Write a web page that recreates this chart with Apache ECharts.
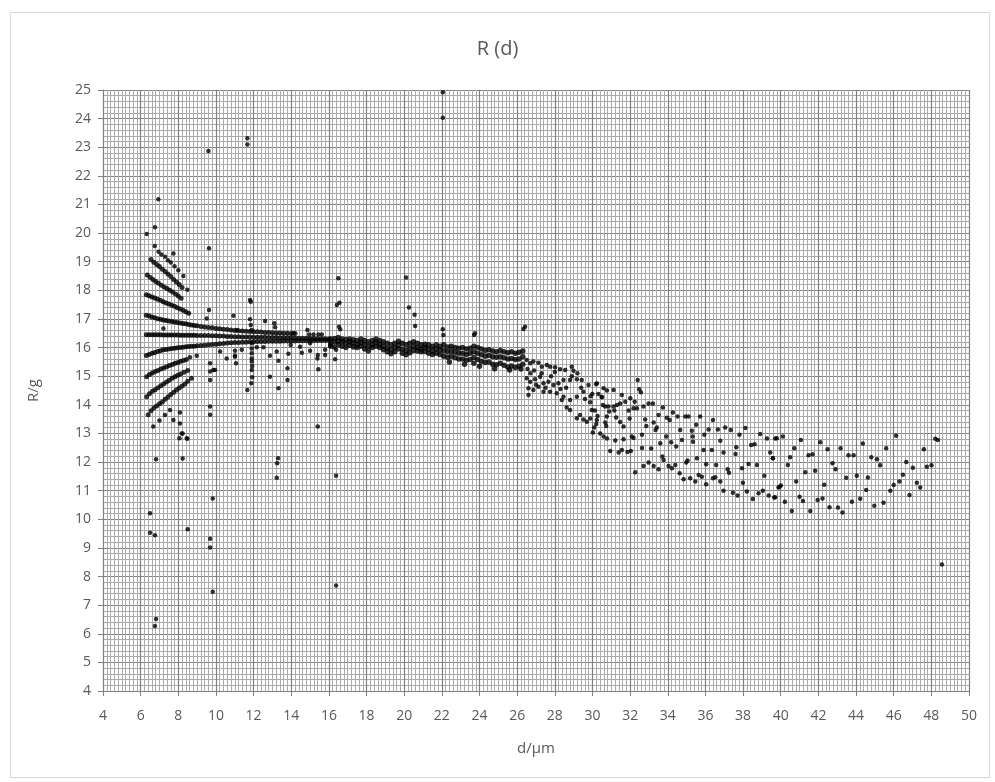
<!DOCTYPE html>
<html>
<head>
<meta charset="utf-8">
<script src="https://cdn.jsdelivr.net/npm/echarts@6/dist/echarts.min.js"></script>
<style>
html,body{margin:0;padding:0;background:#fff;}
#chart{width:995px;height:782px;}
</style>
</head>
<body>
<div id="chart"></div>
<script>
const titleText = 'R (d)';
const xName = 'd/µm';
const yName = 'R/g';
const xMin = 4, xMax = 50, xStep = 2;
const yMin = 4, yMax = 25, yStep = 1;

const fanCenter = [[6.3,16.45],[6.45,16.45],[6.6,16.45],[6.75,16.45],[6.9,16.45],[7.05,16.45],[7.2,16.44],[7.35,16.44],[7.5,16.44],[7.65,16.44],[7.8,16.44],[7.95,16.44],[8.1,16.43],[8.25,16.43],[8.4,16.43],[8.55,16.43],[8.7,16.43],[8.85,16.43],[9.0,16.42],[9.2,16.42],[9.4,16.42],[9.6,16.42],[9.8,16.41],[10.0,16.41],[10.2,16.4],[10.4,16.4],[10.6,16.39],[10.8,16.39],[11.0,16.38],[11.2,16.38],[11.4,16.37],[11.6,16.37],[11.8,16.37],[12.0,16.36],[12.2,16.36],[12.4,16.36],[12.6,16.36],[12.8,16.35],[13.0,16.35],[13.2,16.35],[13.4,16.34],[13.6,16.34],[13.8,16.34],[14.0,16.34],[14.2,16.33],[14.4,16.33],[14.6,16.33],[14.8,16.33],[15.0,16.32],[15.2,16.32],[15.4,16.31],[15.6,16.31],[15.8,16.31],[16.0,16.3]];

const fanUpperA = [[6.3,17.13],[6.45,17.1],[6.6,17.07],[6.75,17.04],[6.9,17.01],[7.05,16.99],[7.2,16.96],[7.35,16.95],[7.5,16.93],[7.65,16.91],[7.8,16.89],[7.95,16.88],[8.1,16.86],[8.25,16.84],[8.4,16.83],[8.55,16.81],[8.7,16.79],[8.85,16.77],[9.0,16.76],[9.2,16.74],[9.4,16.72],[9.6,16.7],[9.8,16.69],[10.0,16.67],[10.2,16.66],[10.4,16.64],[10.6,16.63],[10.8,16.61],[11.0,16.6],[11.2,16.59],[11.4,16.58],[11.6,16.57],[11.8,16.56],[12.0,16.55],[12.2,16.55],[12.4,16.54],[12.6,16.53],[12.8,16.53],[13.0,16.52],[13.2,16.51],[13.4,16.51],[13.6,16.5],[13.8,16.5],[14.0,16.49],[14.2,16.49]];

const fanUpperB = [[6.3,17.85],[6.45,17.81],[6.6,17.77],[6.75,17.73],[6.9,17.69],[7.05,17.65],[7.2,17.6],[7.35,17.56],[7.5,17.52],[7.65,17.48],[7.8,17.44],[7.95,17.39],[8.1,17.35],[8.25,17.3],[8.4,17.25],[8.55,17.2]];

const fanUpperC = [[6.35,18.54],[6.5,18.46],[6.65,18.38],[6.8,18.31],[6.95,18.25],[7.1,18.18],[7.25,18.12],[7.4,18.06],[7.55,18.0],[7.7,17.94],[7.85,17.87],[8.0,17.8],[8.15,17.72]];

const fanUpperD = [[6.55,19.08],[6.7,18.98],[6.85,18.9],[7.0,18.83],[7.15,18.74],[7.3,18.66],[7.45,18.57],[7.6,18.48],[7.75,18.38],[7.9,18.29],[8.05,18.2],[8.2,18.1]];

const fanUpperE = [[6.95,19.35],[7.1,19.25],[7.3,19.17],[7.45,19.05],[7.6,18.97],[7.8,18.84],[8.0,18.7],[8.27,18.5],[8.48,18.02],[7.74,19.29],[6.75,19.55],[6.32,19.97],[6.76,20.2],[6.94,21.18],[9.63,19.47]];

const fanLowerA = [[6.3,15.72],[6.45,15.76],[6.6,15.8],[6.75,15.83],[6.9,15.86],[7.05,15.89],[7.2,15.92],[7.35,15.93],[7.5,15.95],[7.65,15.97],[7.8,15.98],[7.95,15.99],[8.1,16.0],[8.25,16.01],[8.4,16.03],[8.55,16.04],[8.7,16.05],[8.85,16.05],[9.0,16.06],[9.2,16.07],[9.4,16.08],[9.6,16.1],[9.8,16.11],[10.0,16.12],[10.2,16.13],[10.4,16.14],[10.6,16.16],[10.8,16.17],[11.0,16.18],[11.2,16.18],[11.4,16.19],[11.6,16.19],[11.8,16.2],[12.0,16.2],[12.2,16.21],[12.4,16.21],[12.6,16.21],[12.8,16.22],[13.0,16.22],[13.2,16.22],[13.4,16.22],[13.6,16.23],[13.8,16.23],[14.0,16.23],[14.2,16.23],[14.4,16.24],[14.6,16.24],[14.8,16.24],[15.0,16.24],[15.2,16.25],[15.4,16.25],[15.6,16.25],[15.8,16.25],[16.0,16.26]];

const fanLowerB = [[6.32,14.98],[6.47,15.06],[6.62,15.11],[6.77,15.16],[6.92,15.2],[7.07,15.25],[7.22,15.29],[7.38,15.33],[7.53,15.37],[7.68,15.41],[7.83,15.45],[7.98,15.48],[8.13,15.52],[8.28,15.55],[8.43,15.58]];

const fanLowerC = [[6.32,14.28],[6.47,14.39],[6.62,14.47],[6.77,14.53],[6.92,14.6],[7.07,14.67],[7.22,14.73],[7.37,14.8],[7.52,14.86],[7.67,14.93],[7.82,14.98],[7.97,15.03],[8.12,15.08],[8.3,15.14],[8.5,15.2]];

const fanLowerD = [[6.4,13.65],[6.55,13.79],[6.7,13.89],[6.85,13.96],[7.0,14.04],[7.15,14.1],[7.3,14.19],[7.45,14.27],[7.6,14.36],[7.75,14.44],[7.9,14.52],[8.05,14.59],[8.2,14.66],[8.35,14.73],[8.5,14.82],[8.7,14.93]];

const fanLowerE = [[6.67,13.24],[7.0,13.45],[7.29,13.64],[7.56,13.82],[7.74,13.47],[8.09,13.73],[8.09,13.35],[8.18,13.0],[8.45,12.83],[8.06,12.83],[8.48,12.81],[8.23,13.0]];

const scatterLeft = [[7.21,16.67],[8.62,15.66],[8.98,15.71],[9.51,17.02],[9.63,17.31],[9.69,15.45],[9.69,15.16],[9.86,15.22],[9.95,15.22],[9.69,14.87],[9.69,13.94],[9.69,13.65],[10.22,15.86],[10.57,15.62],[10.93,17.11],[11.01,15.89],[11.01,15.71],[11.07,15.45],[11.01,15.68],[11.1,16.61],[11.37,15.92],[11.81,17.66],[11.85,17.6],[11.81,16.99],[11.85,16.79],[11.9,16.61],[11.9,16.15],[11.9,15.97],[11.9,15.8],[11.9,15.62],[11.9,15.51],[11.92,15.36],[11.9,15.22],[11.92,14.96],[11.88,14.75],[11.67,14.52],[12.17,16.01],[12.52,16.01],[12.61,16.93],[12.87,15.71],[12.87,14.98],[13.1,16.85],[13.14,16.71],[13.23,15.86],[13.32,15.54],[13.32,14.58],[13.8,15.28],[13.8,14.87],[13.85,15.78],[13.97,16.09],[14.11,16.5],[14.47,16.03],[14.56,15.82],[14.86,16.61],[14.95,16.46],[15.0,16.15],[15.0,15.89],[15.18,16.46],[15.39,15.62],[15.41,15.74],[15.44,15.24],[15.44,16.46],[15.62,16.46],[15.8,15.92],[15.8,15.74],[16.06,16.09],[16.33,15.59],[16.38,15.92],[16.42,17.49],[16.56,17.57],[16.54,16.73],[16.6,16.64],[16.5,18.42],[15.41,13.24]];

const bandPoints = [
[16.1,16.3],[16.1,16.15],[16.1,16.05],[16.3,16.32],[16.3,16.2],[16.3,16.02],[16.5,16.35],[16.5,16.22],[16.5,16.1],[16.7,16.3],[16.7,16.2],[16.7,16.05],
[16.9,16.28],[16.9,16.15],[16.9,16.0],[17.1,16.3],[17.1,16.2],[17.1,16.08],[17.3,16.27],[17.3,16.15],[17.3,16.02],[17.5,16.25],[17.5,16.12],[17.5,16.0],
[17.7,16.3],[17.7,16.18],[17.7,16.05],[17.9,16.25],[17.9,16.1],[17.9,15.95],[18.1,16.2],[18.1,16.05],[18.1,15.88],[18.3,16.25],[18.3,16.12],[18.3,16.0],
[18.5,16.3],[18.5,16.18],[18.5,16.05],[18.7,16.25],[18.7,16.12],[18.7,16.0],[18.9,16.2],[18.9,16.05],[18.9,15.92],[19.1,16.15],[19.1,15.98],[19.1,15.85],
[19.3,16.1],[19.3,15.92],[19.3,15.78],[19.5,16.15],[19.5,16.0],[19.5,15.85],[19.7,16.22],[19.7,16.08],[19.7,15.95],[19.9,16.15],[19.9,15.95],[19.9,15.8],
[20.1,16.1],[20.1,15.9],[20.1,15.75],[20.3,16.15],[20.3,15.98],[20.3,15.82],[20.5,16.2],[20.5,16.05],[20.5,15.9],[20.7,16.15],[20.7,16.0],[20.7,15.88],
[20.9,16.1],[20.9,15.95],[20.9,15.85],[21.1,16.12],[21.1,16.0],[21.1,15.86],[21.3,16.1],[21.3,15.95],[21.3,15.8],[21.5,16.05],[21.5,15.9],[21.5,15.76],
[21.7,16.1],[21.7,15.95],[21.7,15.8],[21.9,16.05],[21.9,15.92],[21.9,15.76],[22.1,16.1],[22.1,15.9],[22.1,15.7],[22.3,16.02],[22.3,15.85],[22.3,15.66],
[22.5,16.05],[22.5,15.88],[22.5,15.7],[22.7,16.0],[22.7,15.84],[22.7,15.64],[22.9,15.98],[22.9,15.8],[22.9,15.6],[23.1,16.0],[23.1,15.8],[23.1,15.6],
[23.3,15.95],[23.3,15.76],[23.3,15.56],[23.5,15.98],[23.5,15.8],[23.5,15.58],[23.7,16.05],[23.7,15.85],[23.7,15.65],[23.7,15.45],[23.9,16.0],[23.9,15.8],[23.9,15.58],
[24.1,15.95],[24.1,15.75],[24.1,15.52],[24.3,15.9],[24.3,15.7],[24.3,15.48],[24.5,15.92],[24.5,15.72],[24.5,15.5],[24.7,15.88],[24.7,15.68],[24.7,15.42],
[24.9,15.85],[24.9,15.66],[24.9,15.4],[25.1,15.9],[25.1,15.68],[25.1,15.45],[25.3,15.85],[25.3,15.64],[25.3,15.38],[25.5,15.82],[25.5,15.6],[25.5,15.32],
[25.7,15.85],[25.7,15.62],[25.7,15.36],[25.9,15.8],[25.9,15.58],[25.9,15.3],[26.1,15.84],[26.1,15.6],[26.1,15.35],[26.3,15.88],[26.3,15.68],[26.3,15.42],
[22.4,15.5],[23.2,15.42],[24.0,15.35],[24.8,15.26],[25.6,15.22],[26.2,15.25]
];

const outlierPoints = [[22.05,24.92],[22.05,24.03],[9.6,22.87],[11.67,23.31],[11.67,23.1],[6.82,12.1],[8.23,12.12],[13.3,12.13],[13.25,11.96],[13.23,11.45],[16.38,11.52],[9.83,10.73],[6.5,10.21],[6.5,9.53],[6.76,9.44],[8.5,9.65],[9.69,9.32],[9.69,9.01],[9.83,7.47],[16.38,7.69],[6.82,6.52],[6.76,6.27],[48.56,8.42],[20.1,18.45],[20.25,17.4],[20.55,17.15],[20.58,16.75],[22.05,16.64],[22.08,16.44],[23.76,16.5],[23.71,16.44],[26.42,16.73],[26.33,16.65]];

const rightPoints = [
[26.51,15.57],[26.69,15.45],[26.86,15.51],[27.13,15.47],[27.31,15.33],[27.57,15.39],[27.75,15.33],[28.01,15.31],[28.28,15.24],[28.55,15.22],[28.9,15.33],[28.99,15.19],
[26.51,14.93],[26.69,14.81],[26.95,14.89],[27.22,14.98],[27.4,14.75],[27.66,14.81],[27.93,14.69],[28.19,14.75],[28.46,14.87],[28.81,14.87],[29.17,14.89],[29.43,14.87],
[26.6,14.58],[26.86,14.52],[27.13,14.63],[27.4,14.46],[27.75,14.46],[28.1,14.4],[28.46,14.28],[28.81,14.17],[29.17,14.28],[29.52,14.46],[29.79,14.69],[30.23,14.75],
[26.6,14.34],[28.37,14.17],[28.63,13.91],[28.81,13.82],[29.17,13.53],[29.34,13.64],[29.52,13.49],[29.7,13.41],[29.96,13.82],[30.23,13.47],[30.49,14.28],[30.67,13.94],[30.76,13.59],
[26.55,15.25],[26.7,15.1],[26.9,15.2],[27.0,14.7],[27.3,15.1],[27.5,14.6],[27.8,15.0],[28.0,15.15],[28.3,14.55],[28.6,14.6],[28.9,15.0],[29.2,15.1],[29.4,14.6],[29.6,14.2],[29.9,14.3],
[30.2,14.72],[29.88,14.09],[30.13,13.8],[29.88,13.52],[30.2,13.33],[30.09,13.21],[30.02,13.03],[30.59,14.58],[30.77,14.5],[31.12,14.52],[31.56,14.34],[32.01,14.23],[32.24,14.11],[32.4,14.87],[32.48,14.54],[32.57,14.44],
[29.99,14.38],[30.31,14.38],[30.5,14.26],[30.55,13.99],[30.85,13.94],[31.12,13.94],[31.3,13.99],[31.47,14.05],[31.74,14.11],[30.89,13.77],[31.16,13.8],[31.26,13.56],[31.47,13.4],[31.65,13.24],[31.92,13.8],[31.97,13.52],
[32.18,13.88],[32.36,13.88],[32.71,13.94],[32.98,14.05],[33.21,14.05],[33.74,13.91],[30.27,13.61],[30.68,13.38],[30.73,13.26],[30.41,13.0],[30.59,12.89],[30.77,12.82],[31.21,12.75],[31.65,12.8],[32.09,12.89],[32.18,12.84],
[30.94,12.39],[31.39,12.33],[31.56,12.42],[31.86,12.35],[32.04,12.39],[32.63,12.49],[33.12,12.47],[32.8,13.49],[32.86,13.26],[33.25,13.38],[33.42,13.21],[33.35,13.12],[33.51,13.64],[33.95,13.55],[34.1,13.47],[34.27,13.73],
[34.52,13.59],[34.93,13.59],[35.1,13.59],[35.72,13.59],[36.4,13.47],[35.51,13.3],[34.66,13.12],[35.28,13.09],[36.17,13.14],[36.66,13.14],[37.05,13.21],[37.35,13.12],[38.12,13.19],[37.81,12.95],[38.91,12.98],[39.27,12.82],[39.71,12.82],
[32.63,12.95],[33.6,12.66],[33.92,12.89],[34.18,12.69],[34.45,12.54],[34.75,12.77],[35.32,12.89],[35.34,12.71],[35.94,12.95],[36.79,12.74],[37.64,12.52],[38.43,12.6],[38.61,12.62],[35.9,12.42],[36.34,12.42],[36.96,12.33],[37.6,12.28],[39.44,12.33],[39.59,12.13],
[32.71,11.86],[32.98,11.98],[33.25,11.86],[33.51,11.75],[33.71,12.19],[33.78,12.07],[34.04,11.86],[34.22,11.78],[34.4,11.9],[34.63,11.61],[34.98,11.98],[35.05,12.05],[35.55,12.13],[36.04,11.92],[36.57,11.9],[37.18,11.75],[37.25,11.63],[37.94,11.78],[38.29,11.93],[38.74,11.9],
[32.27,11.64],[34.84,11.4],[35.19,11.43],[35.46,11.32],[35.64,11.55],[35.81,11.49],[36.04,11.22],[36.4,11.43],[36.52,11.47],[36.79,11.32],[36.96,11.0],[37.46,10.93],[37.71,10.83],[37.99,11.28],[38.2,10.97],[38.52,10.71],[38.82,10.91],[39.05,11.0],[39.13,11.52],[39.36,10.83],[39.71,10.77],[39.94,11.14],
[39.79,12.83],[40.11,12.89],[39.58,12.13],[40.38,11.9],[40.5,12.17],[40.72,12.48],[41.07,12.77],[42.1,12.69],[41.48,12.24],[41.69,12.27],[42.49,12.45],[41.3,11.64],[41.83,11.7],[42.75,11.96],[42.91,11.75],[43.18,12.48],[43.6,12.24],[43.87,12.24],
[44.36,12.65],[44.81,12.17],[45.11,12.1],[45.28,11.89],[45.6,12.48],[46.13,12.92],[46.67,12.0],[47.02,11.8],[47.6,12.45],[47.76,11.84],[48.01,11.89],[48.21,12.81],[48.35,12.77],
[40.82,11.32],[40.01,11.18],[39.88,11.11],[39.65,10.76],[40.22,10.61],[40.59,10.29],[41.0,10.79],[41.18,10.64],[41.57,10.29],[41.96,10.67],[42.22,10.73],[42.31,11.21],[42.59,10.42],[43.04,10.41],[43.28,10.24],[43.48,11.45],[43.78,10.61],[44.04,11.52],
[44.22,10.72],[44.54,11.02],[44.63,11.46],[44.97,10.47],[45.46,10.58],[45.82,11.0],[46.0,11.2],[46.31,11.32],[46.49,11.56],[46.84,10.85],[47.23,11.28],[47.41,11.11]
];

const fanGroups = [fanCenter, fanUpperA, fanUpperB, fanUpperC, fanUpperD, fanLowerA, fanLowerB, fanLowerC, fanLowerD];
const looseGroups = [fanUpperE, fanLowerE, scatterLeft, outlierPoints, rightPoints];

const chart = echarts.init(document.getElementById('chart'), null, {renderer:'canvas'});
const fontFam = '"Open Sans", "Liberation Sans", sans-serif';
const labelColor = '#595959';
const majorColor = '#808080';
const minorColor = '#ababab';

function mk(d, size) {
  return {type: 'scatter', data: d, symbol: 'circle', symbolSize: size,
    itemStyle: {color: '#000000'}, silent: true};
}
const seriesList = []
  .concat(fanGroups.map(function (d) { return mk(d, 5); }))
  .concat([mk(bandPoints, 5.5)])
  .concat(looseGroups.map(function (d) { return mk(d, 4.5); }));

chart.setOption({
  backgroundColor: '#ffffff',
  animation: false,
  title: {
    text: titleText, left: 'center', top: 34,
    textStyle: {fontFamily: fontFam, fontSize: 20, fontWeight: 'normal', color: labelColor}
  },
  graphic: [{
    type: 'rect', left: 8, top: 10, z: -10,
    shape: {width: 979, height: 765},
    style: {fill: 'none', stroke: '#d9d9d9', lineWidth: 1}
  }],
  grid: {left: 103, right: 26, top: 90, bottom: 91, containLabel: false},
  xAxis: {
    type: 'value', min: xMin, max: xMax, interval: xStep,
    name: xName, nameLocation: 'middle', nameGap: 50,
    nameTextStyle: {fontFamily: fontFam, fontSize: 15, color: labelColor},
    axisLine: {show: true, lineStyle: {color: majorColor, width: 1}},
    axisTick: {show: true, length: 5, lineStyle: {color: majorColor}},
    minorTick: {show: false, splitNumber: 10},
    axisLabel: {fontFamily: fontFam, fontSize: 14, color: labelColor, margin: 18},
    splitLine: {show: true, lineStyle: {color: majorColor, width: 1.2}},
    minorSplitLine: {show: true, lineStyle: {color: minorColor, width: 1}}
  },
  yAxis: {
    type: 'value', min: yMin, max: yMax, interval: yStep,
    name: yName, nameLocation: 'middle', nameGap: 62, nameRotate: 90,
    nameTextStyle: {fontFamily: fontFam, fontSize: 15, color: labelColor},
    axisLine: {show: true, lineStyle: {color: majorColor, width: 1}},
    axisTick: {show: true, length: 5, lineStyle: {color: majorColor}},
    minorTick: {show: false, splitNumber: 5},
    axisLabel: {fontFamily: fontFam, fontSize: 14, color: labelColor, margin: 12},
    splitLine: {show: true, lineStyle: {color: majorColor, width: 1.2}},
    minorSplitLine: {show: true, lineStyle: {color: minorColor, width: 1}}
  },
  series: seriesList
});
</script>
</body>
</html>
